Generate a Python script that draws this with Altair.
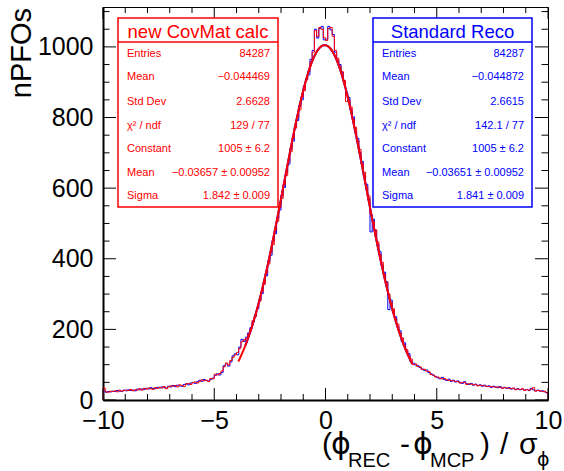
import altair as alt
import pandas as pd
import numpy as np

FONT = "Liberation Sans"
RED = "#ff0000"
BLUE = "#0000ff"

# ---------------- data ----------------
bin_low = -10.0
bin_width = 0.1

blue_counts = [
    26, 22, 24, 23, 25, 24, 27, 25, 24, 28, 26, 29, 27, 28, 26, 31, 29, 31, 30, 33,
    31, 35, 33, 32, 36, 34, 37, 35, 34, 39, 37, 41, 38, 42, 40, 39, 44, 46, 43, 48,
    50, 47, 52, 56, 53, 58, 55, 54, 59, 62,
    70, 74, 71, 78, 97, 102, 96, 108, 125, 131, 128, 150, 172, 166, 178, 190, 205, 221, 240, 258,
    283, 301, 335, 352, 392, 410, 452, 471, 515, 538, 580, 602, 645, 668, 712, 733, 775, 792, 834, 850,
    888, 910, 921, 965, 990, 1050, 1025, 1052, 1058, 1020,
    1022, 1058, 1048, 1035, 985, 962, 950, 928, 902, 870, 857, 822, 802, 760, 741, 700, 676, 636, 611, 570,
    476, 512, 480, 441, 420, 381, 362, 335, 256, 283, 251, 236, 208, 196, 166, 162, 138, 131, 108, 104,
    99, 97, 92, 88, 84, 85, 78, 74, 70, 67,
    63, 60, 64, 58, 55, 59, 53, 56, 51, 54, 50, 47, 52, 46, 44, 47, 42, 45, 41, 43,
    39, 42, 38, 40, 36, 39, 37, 35, 38, 34, 36, 33, 35, 31, 33, 30, 32, 29, 31, 28,
    30, 27, 33, 29, 26, 28, 25, 26, 23, 21,
]

red_counts = [
    34, 23, 22, 25, 24, 26, 23, 28, 25, 27, 28, 27, 30, 26, 29, 28, 32, 28, 33, 31,
    34, 32, 30, 35, 33, 36, 34, 38, 32, 37, 40, 39, 41, 37, 43, 41, 38, 45, 47, 44,
    49, 51, 48, 53, 57, 55, 56, 52, 61, 60,
    73, 71, 75, 82, 94, 105, 99, 112, 121, 128, 135, 146, 165, 170, 175, 186, 201, 225, 236, 262,
    280, 306, 328, 360, 385, 418, 440, 480, 506, 545, 571, 610, 636, 675, 703, 742, 770, 801, 822, 858,
    876, 906, 930, 958, 985, 1046, 1030, 1055, 1050, 1026,
    1018, 1052, 1055, 1030, 990, 968, 946, 930, 905, 845, 850, 830, 795, 772, 735, 710, 670, 645, 603, 578,
    525, 505, 482, 448, 412, 390, 355, 334, 300, 276, 258, 230, 215, 190, 176, 155, 143, 125, 116, 100,
    102, 95, 94, 86, 87, 82, 80, 72, 71, 65,
    65, 62, 60, 61, 57, 56, 55, 54, 53, 52, 48, 49, 50, 44, 46, 45, 43, 44, 40, 42,
    41, 40, 39, 38, 38, 37, 36, 37, 36, 33, 35, 34, 33, 32, 34, 29, 31, 30, 32, 27,
    29, 28, 31, 35, 25, 27, 26, 24, 25, 20,
]

# Gaussian fit parameters [constant, mean, sigma] and fit ranges
red_fit = [1005.0, -0.03657, 1.842]
red_fit_range = [-3.92, 3.9]
blue_fit = [1005.0, -0.03651, 1.841]
blue_fit_range = [-3.6, 3.9]

red_stats = [
    ("Entries", "84287"),
    ("Mean", "\u22120.044469"),
    ("Std Dev", "2.6628"),
    ("\u03c7\u00b2 / ndf", "129 / 77"),
    ("Constant", "1005 \u00b1 6.2"),
    ("Mean", "\u22120.03657 \u00b1 0.00952"),
    ("Sigma", "1.842 \u00b1 0.009"),
]
blue_stats = [
    ("Entries", "84287"),
    ("Mean", "\u22120.044872"),
    ("Std Dev", "2.6615"),
    ("\u03c7\u00b2 / ndf", "142.1 / 77"),
    ("Constant", "1005 \u00b1 6.2"),
    ("Mean", "\u22120.03651 \u00b1 0.00952"),
    ("Sigma", "1.841 \u00b1 0.009"),
]

x_major = [-10, -5, 0, 5, 10]
x_minor = [v for v in range(-10, 11) if v % 5 != 0]
y_major = [0, 200, 400, 600, 800, 1000]
y_minor = [v for v in range(50, 1101, 50) if v % 200 != 0]

# ---------------- geometry ----------------
W, H = 445, 393
XMIN, XMAX = -10, 10
YMAX = 1113

xscale = alt.Scale(domain=[XMIN, XMAX], nice=False, zero=False)
yscale = alt.Scale(domain=[0, YMAX], nice=False, zero=True)

xaxis = alt.Axis(values=x_major, format="d", ticks=False, grid=False, title=None, labelFont=FONT,
                 labelFontSize=25, labelColor="black", labelPadding=8, labelFlush=False,
                 domainColor="black", domainWidth=2, labelOverlap=False)
yaxis = alt.Axis(values=y_major, format="d", ticks=False, grid=False, title=None, labelFont=FONT,
                 labelFontSize=25, labelColor="black", labelPadding=10, labelFlush=False,
                 domainColor="black", domainWidth=2, labelOverlap=False)


def X(field):
    return alt.X(field, scale=xscale, axis=xaxis, title=None)


def Y(field):
    return alt.Y(field, scale=yscale, axis=yaxis, title=None)


def outline(counts):
    xs, ys = [bin_low], [0]
    for i, c in enumerate(counts):
        lo = bin_low + i * bin_width
        xs += [lo, lo + bin_width]
        ys += [c, c]
    xs.append(bin_low + len(counts) * bin_width)
    ys.append(0)
    return pd.DataFrame({"x": xs, "y": ys, "k": list(range(len(xs)))})


def fit_curve(p, rng):
    xs = np.linspace(rng[0], rng[1], 300)
    ys = p[0] * np.exp(-0.5 * ((xs - p[1]) / p[2]) ** 2)
    return pd.DataFrame({"x": xs, "y": ys})


dummy = pd.DataFrame({"a": [0]})


def txt(s, x, y, size, color="black", align="left", baseline="alphabetic", angle=None, font=FONT):
    kw = dict(text=s, font=font, fontSize=size, color=color, align=align, baseline=baseline)
    if angle is not None:
        kw["angle"] = angle
    return alt.Chart(dummy).mark_text(**kw).encode(x=alt.value(x), y=alt.value(y))


layers = []

# histograms (carry the axes)
for counts, col in [(blue_counts, BLUE), (red_counts, RED)]:
    layers.append(
        alt.Chart(outline(counts)).mark_line(color=col, strokeWidth=1, clip=True).encode(
            x=X("x:Q"), y=Y("y:Q"), order=alt.Order("k:Q"),
        )
    )

# fits
for p, rng, col in [(blue_fit, blue_fit_range, BLUE), (red_fit, red_fit_range, RED)]:
    layers.append(
        alt.Chart(fit_curve(p, rng)).mark_line(color=col, strokeWidth=2).encode(
            x=X("x:Q"), y=Y("y:Q"),
        )
    )


# tick marks (inward, ROOT style)
def yticks(vals, length):
    df = pd.DataFrame({"v": vals})
    left = alt.Chart(df).mark_rule(color="black", strokeWidth=1).encode(
        y=Y("v:Q"), x=alt.value(0), x2=alt.value(length))
    right = alt.Chart(df).mark_rule(color="black", strokeWidth=1).encode(
        y=Y("v:Q"), x=alt.value(W - length), x2=alt.value(W))
    return [left, right]


def xticks(vals, length):
    df = pd.DataFrame({"v": vals})
    bottom = alt.Chart(df).mark_rule(color="black", strokeWidth=1).encode(
        x=X("v:Q"), y=alt.value(H - length), y2=alt.value(H))
    top = alt.Chart(df).mark_rule(color="black", strokeWidth=1).encode(
        x=X("v:Q"), y=alt.value(0), y2=alt.value(length))
    return [bottom, top]


layers += yticks(y_major, 13) + yticks(y_minor, 6.5)
layers += xticks(x_major, 12) + xticks(x_minor, 6)


# stat boxes
def stat_box(x0, x1, col, header, rows):
    out = []
    out.append(alt.Chart(dummy).mark_rect(fill="white", stroke=col, strokeWidth=1.5).encode(
        x=alt.value(x0), x2=alt.value(x1), y=alt.value(11), y2=alt.value(200)))
    out.append(alt.Chart(dummy).mark_rule(color=col, strokeWidth=1.5).encode(
        x=alt.value(x0), x2=alt.value(x1), y=alt.value(35)))
    out.append(txt(header, (x0 + x1) / 2, 31, 18.5, color=col, align="center"))
    ys = [47, 70.3, 94.7, 119, 142, 165.7, 189]
    for (lab, val), yy in zip(rows, ys):
        out.append(txt(lab, x0 + 9, yy, 11, color=col, baseline="middle"))
        out.append(txt(val, x1 - 8, yy, 11, color=col, align="right", baseline="middle"))
    return out


layers += stat_box(15, 175, RED, "new CovMat calc", red_stats)
layers += stat_box(270, 429, BLUE, "Standard Reco", blue_stats)

# axis titles
layers.append(txt("nPFOs", -72, 1, 29, align="right", angle=270))
big, small = 30, 20
by, sy = 447, 460
PHI = "\u03d5"
layers += [
    txt("(", 219, by, big),
    txt(PHI, 228, by, big, font="DejaVu Sans"),
    txt("REC", 245, sy, small),
    txt("-", 297, by, big),
    txt(PHI, 310, by, big, font="DejaVu Sans"),
    txt("MCP", 327, sy, small),
    txt(")", 377, by, big),
    txt("/", 397, by, big),
    txt("\u03c3", 416, by, big),
    txt(PHI, 434, sy - 1, 19, font="DejaVu Sans"),
]

chart = alt.layer(*layers).properties(
    width=W, height=H,
    autosize=alt.AutoSizeParams(type="none"),
    padding={"left": 103, "top": 7, "right": 16, "bottom": 71},
    background="white",
).configure_view(stroke="black", strokeWidth=1)

chart.save("out.html", embed_options={"renderer": "svg", "actions": False})
